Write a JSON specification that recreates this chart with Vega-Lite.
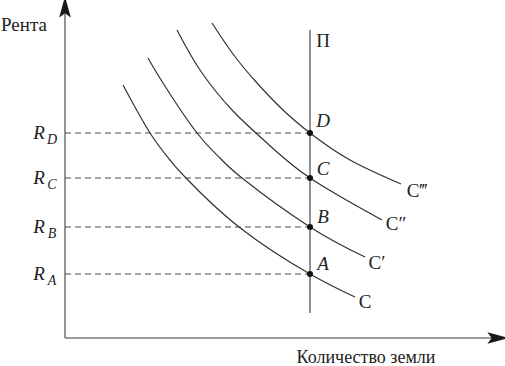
{
  "$schema": "https://vega.github.io/schema/vega-lite/v6.json",
  "width": 505,
  "height": 366,
  "autosize": "none",
  "padding": 0,
  "background": "white",
  "config": {"view": {"stroke": null}},
  "datasets": {
    "curves": [
      {"curve": "C", "x": 5.8, "y": 25.3},
      {"curve": "C", "x": 8.5, "y": 20.5},
      {"curve": "C", "x": 10.5, "y": 17.8},
      {"curve": "C", "x": 12.1, "y": 16.0},
      {"curve": "C", "x": 17.4, "y": 11.1},
      {"curve": "C", "x": 24.5, "y": 6.4},
      {"curve": "C", "x": 29.0, "y": 4.1},
      {"curve": "C1", "x": 8.3, "y": 28.0},
      {"curve": "C1", "x": 9.8, "y": 25.5},
      {"curve": "C1", "x": 13.2, "y": 20.5},
      {"curve": "C1", "x": 15.5, "y": 18.0},
      {"curve": "C1", "x": 17.7, "y": 16.0},
      {"curve": "C1", "x": 24.5, "y": 11.1},
      {"curve": "C1", "x": 30.0, "y": 8.1},
      {"curve": "C2", "x": 11.2, "y": 30.8},
      {"curve": "C2", "x": 13.5, "y": 26.8},
      {"curve": "C2", "x": 16.8, "y": 22.7},
      {"curve": "C2", "x": 20.2, "y": 19.5},
      {"curve": "C2", "x": 24.5, "y": 16.0},
      {"curve": "C2", "x": 31.7, "y": 11.8},
      {"curve": "C3", "x": 14.7, "y": 31.5},
      {"curve": "C3", "x": 16.8, "y": 28.4},
      {"curve": "C3", "x": 19.2, "y": 25.5},
      {"curve": "C3", "x": 21.8, "y": 22.8},
      {"curve": "C3", "x": 24.5, "y": 20.5},
      {"curve": "C3", "x": 28.5, "y": 17.8},
      {"curve": "C3", "x": 33.6, "y": 15.4}
    ],
    "levels": [
      {"name": "A", "x": 0, "x2": 24.5, "y": 6.4},
      {"name": "B", "x": 0, "x2": 24.5, "y": 11.1},
      {"name": "C", "x": 0, "x2": 24.5, "y": 16.0},
      {"name": "D", "x": 0, "x2": 24.5, "y": 20.5}
    ]
  },
  "encoding": {
    "x": {"field": "x", "type": "quantitative", "scale": {"domain": [-6.5, 44], "nice": false, "zero": false}, "axis": null},
    "y": {"field": "y", "type": "quantitative", "scale": {"domain": [-2.8, 33.8], "nice": false, "zero": false}, "axis": null}
  },
  "layer": [
    {
      "data": {"values": [{"x": 0, "y": 0, "x2": 0, "y2": 33.0}, {"x": 0, "y": 0, "x2": 43.2, "y2": 0}]},
      "mark": {"type": "rule", "color": "#7a7a7a", "strokeWidth": 1.6},
      "encoding": {"x2": {"field": "x2"}, "y2": {"field": "y2"}}
    },
    {
      "data": {"values": [{"x": 0, "y": 33.1, "s": "M0,-1L0.55,1L0,0.6L-0.55,1Z"}, {"x": 43.3, "y": 0, "s": "M1,0L-1,0.55L-0.6,0L-1,-0.55Z"}]},
      "mark": {"type": "point", "filled": true, "color": "#1a1a1a", "size": 450, "opacity": 1},
      "encoding": {"shape": {"field": "s", "type": "nominal", "scale": null}}
    },
    {
      "data": {"values": [{"x": 24.5, "y": 2.5, "y2": 30.8}]},
      "mark": {"type": "rule", "color": "#6e6e6e", "strokeWidth": 1.5},
      "encoding": {"y2": {"field": "y2"}}
    },
    {
      "data": {"name": "levels"},
      "mark": {"type": "rule", "color": "#4a4a4a", "strokeWidth": 1.1, "strokeDash": [6, 4]},
      "encoding": {"x2": {"field": "x2"}}
    },
    {
      "data": {"name": "curves"},
      "mark": {"type": "line", "color": "#333333", "strokeWidth": 1.2, "interpolate": "natural"},
      "encoding": {"detail": {"field": "curve"}}
    },
    {
      "data": {"name": "levels"},
      "mark": {"type": "point", "filled": true, "color": "#111111", "size": 36, "opacity": 1},
      "encoding": {"x": {"field": "x2", "type": "quantitative"}}
    },
    {
      "data": {"values": [
        {"x": -2.6, "y": 20.5, "t": "R"},
        {"x": -2.6, "y": 16.0, "t": "R"},
        {"x": -2.6, "y": 11.1, "t": "R"},
        {"x": -2.6, "y": 6.4, "t": "R"},
        {"x": 25.8, "y": 21.7, "t": "D"},
        {"x": 25.8, "y": 16.9, "t": "C"},
        {"x": 25.8, "y": 12.1, "t": "B"},
        {"x": 25.8, "y": 7.4, "t": "A"}
      ]},
      "mark": {"type": "text", "font": "Liberation Serif", "fontStyle": "italic", "fontSize": 19, "color": "#222222", "align": "center", "baseline": "middle"},
      "encoding": {"text": {"field": "t"}}
    },
    {
      "data": {"values": [
        {"x": -1.3, "y": 19.8, "t": "D"},
        {"x": -1.3, "y": 15.3, "t": "C"},
        {"x": -1.3, "y": 10.4, "t": "B"},
        {"x": -1.3, "y": 5.7, "t": "A"}
      ]},
      "mark": {"type": "text", "font": "Liberation Serif", "fontStyle": "italic", "fontSize": 14, "color": "#222222", "align": "center", "baseline": "middle"},
      "encoding": {"text": {"field": "t"}}
    },
    {
      "data": {"values": [
        {"x": 25.8, "y": 29.7, "t": "П"},
        {"x": 35.2, "y": 14.7, "t": "C‴"},
        {"x": 33.1, "y": 11.4, "t": "C″"},
        {"x": 31.2, "y": 7.5, "t": "C′"},
        {"x": 30.0, "y": 3.6, "t": "C"}
      ]},
      "mark": {"type": "text", "font": "Liberation Serif", "fontSize": 19, "color": "#222222", "align": "center", "baseline": "middle"},
      "encoding": {"text": {"field": "t"}}
    },
    {
      "data": {"values": [
        {"x": -6.4, "y": 31.3, "t": "Рента"}
      ]},
      "mark": {"type": "text", "font": "Liberation Serif", "fontSize": 19, "color": "#222222", "align": "left", "baseline": "middle"},
      "encoding": {"text": {"field": "t"}}
    },
    {
      "data": {"values": [
        {"x": 30.1, "y": -2.5, "t": "Количество земли"}
      ]},
      "mark": {"type": "text", "font": "Liberation Serif", "fontSize": 18, "color": "#222222", "align": "center", "baseline": "alphabetic"},
      "encoding": {"text": {"field": "t"}}
    }
  ]
}
